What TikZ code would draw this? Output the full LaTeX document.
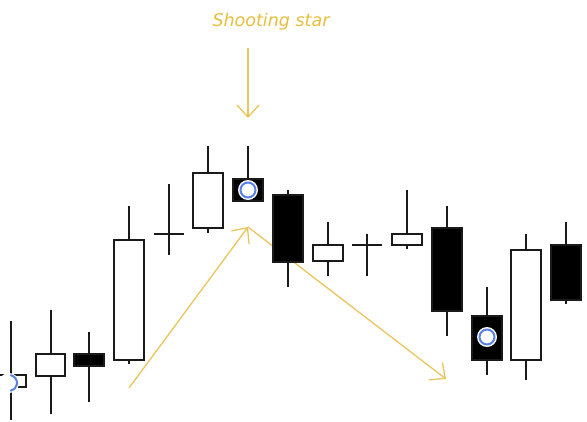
\documentclass[tikz,border=0pt]{standalone}
\usepackage{fontspec}
\setmainfont{DejaVu Sans}
\usetikzlibrary{arrows.meta}
\definecolor{starcol}{HTML}{EAC55C}
\definecolor{titlecol}{HTML}{E8BE3E}
\definecolor{ringcol}{HTML}{5A82E6}
\definecolor{inkcol}{HTML}{1A1A1A}
\tikzset{
  wick/.style={draw=inkcol, line width=1.4pt},
  upbody/.style={draw=inkcol, line width=1.4pt, fill=white},
  downbody/.style={draw=inkcol, line width=1.4pt, fill=black},
  trend/.style={draw=starcol, line width=1.3pt, -{Straight Barb[length=12pt,width=22pt,line width=1.3pt]}},
  ringdot/.style={draw=ringcol, line width=2pt},
  title/.style={text=titlecol, font=\fontsize{17.5}{21}\selectfont\itshape, inner sep=0pt}
}
% #1 wick x, #2 wick top, #3 wick bottom, #4 body left, #5 body right, #6 body top, #7 body bottom, #8 style
\newcommand\mycandle[8]{%
  \draw[wick] (#1,#2) -- (#1,#3);
  \path[#8] (#4,#6) rectangle (#5,#7);
}
\newcommand\mycross[6]{%
  \draw[wick] (#1,#2) -- (#1,#3);
  \draw[wick] (#4,#6) -- (#5,#6);
}
\begin{document}
\begin{tikzpicture}[x=1pt,y=-1pt]
\useasboundingbox (0,0) rectangle (587,421);
% title and its arrow
\node[title] (lbl) at (271,21.5) {Shooting star};
\coordinate (dtop) at (248,48);
\coordinate (dtip) at (248,118);
\draw[trend] (dtop) -- (dtip);
% trend arrows (behind the candles)
\coordinate (rstart) at (129,388);
\coordinate (apex) at (248,227);
\coordinate (fend) at (446,379);
\draw[trend] (rstart) -- (apex);
\draw[trend] (apex) -- (fend);
% candles
\mycandle{11}{321}{420}{-3}{26}{375}{387}{upbody}
\mycandle{51}{310}{414}{36}{65}{354}{376}{upbody}
\mycandle{89}{332}{402}{74}{104}{354}{366}{downbody}
\mycandle{129}{206}{364}{114}{144}{240}{360}{upbody}
\mycross{169}{184}{255}{154}{184}{234}
\mycandle{208}{146}{233}{193}{223}{173}{228}{upbody}
\mycandle{248}{146}{201}{233}{263}{179}{201}{downbody}
\mycandle{288}{190}{287}{273}{303}{195}{262}{downbody}
\mycandle{328}{222}{276}{313}{343}{245}{261}{upbody}
\mycross{367}{234}{276}{352}{382}{245}
\mycandle{407}{190}{249}{392}{422}{234}{245}{upbody}
\mycandle{447}{206}{336}{432}{462}{228}{311}{downbody}
\mycandle{487}{287}{375}{472}{502}{316}{360}{downbody}
\mycandle{526}{234}{380}{511}{541}{250}{360}{upbody}
\mycandle{566}{222}{304}{551}{581}{245}{300}{downbody}
% ring markers
\coordinate (m1) at (9,383);
\coordinate (m2) at (248,190);
\coordinate (m3) at (487,337);
\fill[white] (m1) circle (10);
\draw[ringcol, line width=2pt] ([shift={(-80:8)}]m1) arc (-80:80:8);
\fill[white] (m2) circle (10);
\draw[ringdot] (m2) circle (7.5);
\fill[white] (m3) circle (10);
\draw[ringdot] (m3) circle (7.5);
\end{tikzpicture}
\end{document}
